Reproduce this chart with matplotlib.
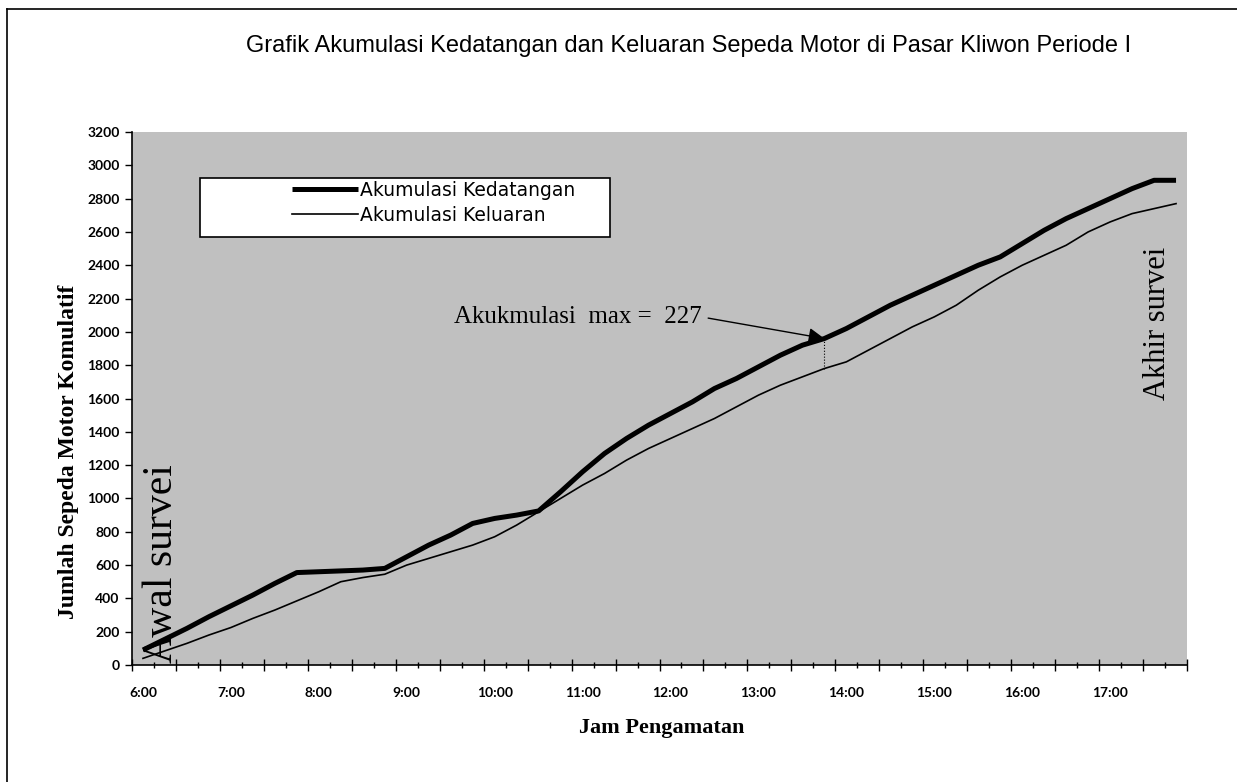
import numpy as np
import matplotlib.pyplot as plt
from matplotlib.lines import Line2D
from matplotlib.patches import Rectangle

# survey slots, 15 minutes each, 6:00 .. 17:45
jam = ['%d:%02d' % (6 + k // 4, 15 * (k % 4)) for k in range(48)]

kedatangan = [90, 155, 220, 290, 355, 420, 490, 555,
              560, 565, 570, 580, 650, 720, 780, 850,
              880, 900, 925, 1040, 1160, 1270, 1360, 1440,
              1510, 1580, 1660, 1720, 1790, 1860, 1920, 1960,
              2020, 2090, 2160, 2220, 2280, 2340, 2400, 2450,
              2530, 2610, 2680, 2740, 2800, 2860, 2910, 2910]

keluaran = [40, 85, 130, 180, 225, 280, 330, 385,
            440, 500, 525, 545, 600, 640, 680, 720,
            770, 840, 920, 1000, 1080, 1150, 1230, 1300,
            1360, 1420, 1480, 1550, 1620, 1680, 1730, 1780,
            1820, 1890, 1960, 2030, 2090, 2160, 2250, 2330,
            2400, 2460, 2520, 2600, 2660, 2710, 2740, 2770]

label_jam = [j for j in jam if j.endswith(':00')]
y_ticks = list(range(0, 3201, 200))
i_max = 31

x = np.arange(len(jam))

fig = plt.figure(figsize=(12.37, 7.82), dpi=100)
ax = fig.add_axes([0.1067, 0.1496, 0.8529, 0.6816])
ax.set_facecolor('#c0c0c0')

ax.plot(x, kedatangan, color='black', lw=3.6, solid_capstyle='butt',
        label='Akumulasi Kedatangan')
ax.plot(x, keluaran, color='black', lw=1.2, label='Akumulasi Keluaran')

# max accumulation marker
ax.vlines(x[i_max], keluaran[i_max], kedatangan[i_max], colors='black',
          linestyles=':', lw=0.8)
ax.annotate('Akukmulasi  max =  227', xy=(x[i_max], kedatangan[i_max]),
            xytext=(25.4, 2090), ha='right', va='center',
            fontsize=18, family='Liberation Serif',
            arrowprops=dict(arrowstyle='-|>', color='black', lw=1.0,
                            mutation_scale=24, shrinkA=3, shrinkB=0,
                            relpos=(1.0, 0.5)))

ax.text(0.028, 0.003, 'Awal survei', rotation=90, ha='center', va='bottom',
        fontsize=30, family='Liberation Serif', transform=ax.transAxes)
ax.text(0.9716, 0.497, 'Akhir survei', rotation=90, ha='center', va='bottom',
        fontsize=22, family='Liberation Serif', transform=ax.transAxes)

ax.set_xlim(-0.5, len(jam) - 0.5)
ax.set_ylim(0, 3200)
ax.set_yticks(y_ticks)
ax.tick_params(axis='y', direction='out', length=5, width=1,
               labelsize=10, pad=4)
for t in ax.get_yticklabels():
    t.set_fontweight('bold')
    t.set_family('Lato')

# category boundaries as tick marks, labels on the hour
bnd = np.arange(len(jam) + 1) - 0.5
ax.set_xticks(bnd[::2])
ax.set_xticks(bnd[1::2], minor=True)
ax.set_xticklabels([])
ax.tick_params(axis='x', which='major', direction='inout', length=8, width=1)
ax.tick_params(axis='x', which='minor', direction='inout', length=5, width=1)

sec = ax.secondary_xaxis('bottom')
sec.set_xticks([jam.index(j) for j in label_jam])
sec.set_xticklabels(label_jam, fontsize=10, fontweight='bold', family='Lato')
sec.tick_params(length=0, pad=16)
sec.spines['bottom'].set_visible(False)

for s in ['top', 'right']:
    ax.spines[s].set_visible(False)
ax.spines['left'].set_linewidth(1.2)
ax.spines['bottom'].set_linewidth(1.2)

ax.set_xlabel('Jam Pengamatan', fontsize=16, family='Liberation Serif',
              fontweight='bold')
ax.xaxis.set_label_coords(0.502, -0.100)
ax.set_ylabel('Jumlah Sepeda Motor Komulatif', fontsize=17,
              family='Liberation Serif', fontweight='bold')
ax.yaxis.set_label_coords(-0.050, 0.40)

# legend box drawn by hand, entries centred inside it
ax.add_patch(Rectangle((0.0645, 0.803), 0.389, 0.111, transform=ax.transAxes,
                       facecolor='white', edgecolor='black', lw=1.2, zorder=5))
leg = ax.legend(loc='upper left', bbox_to_anchor=(0.152, 0.908), frameon=False,
                handlelength=3.5, handletextpad=0.1, labelspacing=0.3,
                borderpad=0, borderaxespad=0,
                prop={'family': 'DejaVu Sans', 'size': 13.5})
leg.set_zorder(6)

fig.text(0.557, 1 - 46 / 782,
         'Grafik Akumulasi Kedatangan dan Keluaran Sepeda Motor di Pasar Kliwon Periode I',
         ha='center', va='center', fontsize=17, family='Liberation Sans')

# scanned page frame
fig.add_artist(Line2D([7 / 1237, 1], [1 - 9 / 782, 1 - 9 / 782],
                      transform=fig.transFigure, color='black', lw=1.2))
fig.add_artist(Line2D([7 / 1237, 7 / 1237], [0, 1 - 9 / 782],
                      transform=fig.transFigure, color='black', lw=1.2))

fig.savefig('out.png', dpi=100)
